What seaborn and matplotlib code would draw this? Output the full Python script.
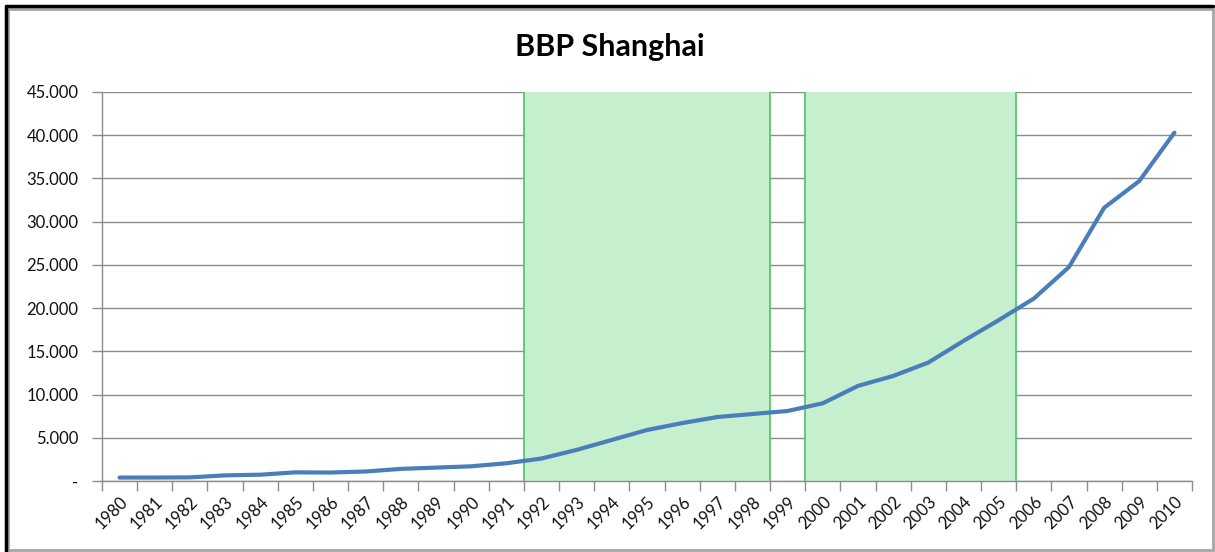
import matplotlib
matplotlib.use("Agg")
import matplotlib.pyplot as plt
import matplotlib.ticker as mticker
from matplotlib.patches import Rectangle
from matplotlib.lines import Line2D
import numpy as np
import pandas as pd
import seaborn as sns

# ---- data ----
years = list(range(1980, 2011))
bbp = [400, 400, 420, 650, 730, 1000, 980, 1100, 1400, 1550, 1700,
       2050, 2600, 3600, 4750, 5900, 6700, 7400, 7750, 8100, 8990,
       11000, 12150, 13700, 16200, 18600, 21100, 24750, 31600, 34700, 40300]
shaded_periods = [(1992, 1998), (2000, 2005)]
title = "BBP Shanghai"
y_ticks = [0, 5000, 10000, 15000, 20000, 25000, 30000, 35000, 40000, 45000]

sns.set_theme(style="white")
plt.rcParams["font.family"] = ["Lato", "DejaVu Sans"]

df = pd.DataFrame({"pos": np.arange(len(years)), "bbp": bbp})

fig = plt.figure(figsize=(12.15, 5.52), dpi=100)
ax = fig.add_axes([102 / 1215, 1 - 481 / 552, (1192 - 102) / 1215, (481 - 92) / 552])

# shaded periods (boundaries on category edges)
for start, end in shaded_periods:
    x0 = years.index(start) - 0.5
    x1 = years.index(end) + 0.5
    ax.axvspan(x0, x1, facecolor="#C6EFCE", edgecolor="none", zorder=1)
    for xv in (x0, x1):
        ax.axvline(xv, color="#5CC470", lw=1.3, zorder=2)

sns.lineplot(data=df, x="pos", y="bbp", ax=ax, color="#4A7EBB", lw=3,
             zorder=4, solid_capstyle="round", solid_joinstyle="round")

ax.set_xlim(-0.5, len(years) - 0.5)
ax.set_ylim(0, 45000)
ax.set_yticks(y_ticks)
ax.yaxis.set_major_formatter(mticker.FuncFormatter(
    lambda v, p: "-" if v == 0 else f"{int(v):,}".replace(",", ".")))
ax.grid(axis="y", color="#8C8C8C", lw=1, zorder=0)
ax.set_axisbelow(True)

ax.set_xticks(np.arange(len(years)))
ax.set_xticklabels([str(y) for y in years], rotation=45, ha="right",
                   rotation_mode="anchor")
ax.set_xticks(np.arange(len(years) + 1) - 0.5, minor=True)
ax.tick_params(axis="x", which="major", length=0, pad=9, labelsize=12,
               colors="#111111")
ax.tick_params(axis="x", which="minor", length=7, width=1, color="#8C8C8C",
               bottom=True)
ax.tick_params(axis="y", which="major", length=7, width=1, color="#8C8C8C",
               left=True, labelsize=12, pad=10, labelcolor="#111111")
for lbl in ax.get_yticklabels():
    lbl.set_horizontalalignment("right")

for side in ("top", "right"):
    ax.spines[side].set_visible(False)
for side in ("left", "bottom"):
    ax.spines[side].set_color("#8C8C8C")
    ax.spines[side].set_linewidth(1)

ax.set_xlabel("")
ax.set_ylabel("")

fig.text(610 / 1215, 1 - 47 / 552, title, ha="center", va="center",
         fontsize=22, fontweight="bold", color="black")

# chart frame
fig.add_artist(Rectangle((8 / 1215, 2 / 552), 1205 / 1215, 541 / 552,
                         transform=fig.transFigure, fill=False,
                         edgecolor="#A6A6A6", lw=2))
fig.add_artist(Line2D([6 / 1215, 6 / 1215], [0, 1 - 6 / 552],
                      transform=fig.transFigure, color="black", lw=2.5))
fig.add_artist(Line2D([6 / 1215, 1213 / 1215], [1 - 6 / 552, 1 - 6 / 552],
                      transform=fig.transFigure, color="black", lw=2.5))

fig.savefig("out.png", dpi=100)
